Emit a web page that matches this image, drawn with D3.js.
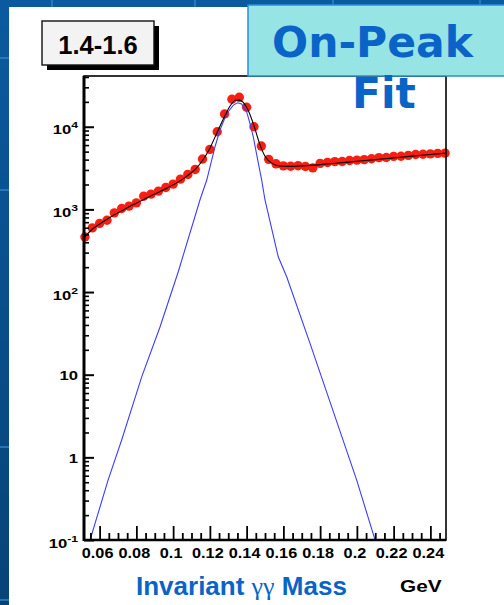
<!DOCTYPE html>
<html>
<head>
<meta charset="utf-8">
<script src="https://cdn.jsdelivr.net/npm/d3@7"></script>
<style>
  html, body { margin: 0; padding: 0; background: #0b5596; }
  svg { display: block; }
</style>
</head>
<body>
<svg id="chart" width="504" height="605"></svg>
<script>
// Diphoton invariant-mass spectrum, momentum slice 1.4-1.6
const binLabel = "1.4-1.6";

// bin centres (GeV) and counts per bin
const binMass = [
  0.052, 0.056, 0.060, 0.064, 0.068, 0.072, 0.076, 0.080, 0.084, 0.088,
  0.092, 0.096, 0.100, 0.104, 0.108, 0.112, 0.116, 0.120, 0.124, 0.128,
  0.132, 0.136, 0.140, 0.144, 0.148, 0.152, 0.156, 0.160, 0.164, 0.168,
  0.172, 0.176, 0.180, 0.184, 0.188, 0.192, 0.196, 0.200, 0.204, 0.208,
  0.212, 0.216, 0.220, 0.224, 0.228, 0.232, 0.236, 0.240, 0.244, 0.248
];
const counts = [
  464, 597, 675, 740, 908, 1025, 1095, 1200, 1445, 1530,
  1663, 1842, 2020, 2322, 2648, 3045, 4067, 5325, 8690, 14250,
  21500, 22700, 17200, 10000, 5840, 4030, 3560, 3360, 3330, 3380,
  3300, 3180, 3600, 3700, 3780, 3800, 3900, 3950, 4000, 4100,
  4230, 4250, 4380, 4400, 4500, 4620, 4650, 4700, 4760, 4800
];

// total fit (signal + background)
const fitMass = [
  0.0515, 0.056, 0.060, 0.064, 0.068, 0.072, 0.076, 0.080, 0.084, 0.088,
  0.092, 0.096, 0.100, 0.104, 0.108, 0.112, 0.116, 0.120, 0.124, 0.128,
  0.131, 0.134, 0.136, 0.138, 0.141, 0.144, 0.147, 0.150, 0.153, 0.156,
  0.160, 0.165, 0.170, 0.180, 0.190, 0.200, 0.210, 0.220, 0.230, 0.240, 0.2485
];
const fitTotal = [
  455, 575, 665, 760, 860, 960, 1075, 1190, 1320, 1460,
  1610, 1780, 1980, 2230, 2580, 3050, 3900, 5500, 8600, 13300,
  17800, 20900, 21000, 19800, 15500, 10300, 6300, 4400, 3700, 3430,
  3330, 3320, 3360, 3480, 3640, 3820, 4000, 4200, 4410, 4620, 4800
];

// signal component of the fit
const sigMass = [
  0.0515, 0.0548, 0.0646, 0.0720, 0.0829, 0.0929, 0.1028, 0.1146, 0.1183,
  0.1228, 0.1255, 0.1292, 0.1328, 0.1351, 0.1373, 0.1400, 0.1418, 0.1436,
  0.1464, 0.1482, 0.1500, 0.1572, 0.1618, 0.1745, 0.1999, 0.2099, 0.2485
];
const sigValues = [
  0.1, 0.1, 0.53, 1.62, 9.4, 38, 176, 1300, 2265,
  5730, 9120, 14500, 18300, 19500, 18800, 15200, 11000, 7570,
  3600, 2265, 1300, 267, 153, 23.9, 0.53, 0.1, 0.1
];

const xTickValues = [0.06, 0.08, 0.10, 0.12, 0.14, 0.16, 0.18, 0.20, 0.22, 0.24];
const xTickLabels = ["0.06", "0.08", "0.1", "0.12", "0.14", "0.16", "0.18", "0.2", "0.22", "0.24"];
const yTickValues = [0.1, 1, 10, 100, 1000, 10000];
const yTickBase = ["10", "1", "10", "10", "10", "10"];
const yTickExp = ["-1", "", "", "2", "3", "4"];

const svg = d3.select("#chart");
const W = 504, H = 605;

// ---------- slide background ----------
const defs = svg.append("defs");
const grad = defs.append("linearGradient").attr("id", "bg").attr("x1", 0).attr("y1", 0).attr("x2", 0).attr("y2", 1);
grad.append("stop").attr("offset", "0%").attr("stop-color", "#0b5a9f");
grad.append("stop").attr("offset", "100%").attr("stop-color", "#074377");
svg.append("rect").attr("width", W).attr("height", H).attr("fill", "url(#bg)");
const bgGrid = svg.append("g").attr("stroke", "#2f7fc4").attr("stroke-width", 2).attr("opacity", 0.8);
[52, 195, 333, 480].forEach(v => bgGrid.append("line").attr("x1", v).attr("x2", v).attr("y1", 0).attr("y2", 7));
[58, 190, 447, 600].forEach(v => bgGrid.append("line").attr("x1", 0).attr("x2", 9).attr("y1", v).attr("y2", v));

// white canvas
svg.append("rect").attr("x", 9).attr("y", 7).attr("width", W - 9).attr("height", H - 7).attr("fill", "#ffffff");

// ---------- scales ----------
const plot = { left: 84, right: 446, top: 76, bottom: 540 };
const x = d3.scaleLinear().domain([0.0515, 0.2485]).range([plot.left, plot.right]);
const y = d3.scaleLog().domain([0.1, Math.pow(10, 4.614)]).range([plot.bottom, plot.top]).clamp(true);

// ---------- data points ----------
const pts = binMass.map((m, i) => ({ m, v: counts[i] }));
svg.append("g").selectAll("circle").data(pts).join("circle")
  .attr("cx", d => x(d.m)).attr("cy", d => y(d.v)).attr("r", 4.7)
  .attr("fill", "#fa1e12");

// ---------- fit curves ----------
const sig = sigMass.map((m, i) => ({ m, v: sigValues[i] }));
const tot = fitMass.map((m, i) => ({ m, v: fitTotal[i] }));
const lineGen = d3.line().x(d => x(d.m)).y(d => y(d.v));
const lineSmooth = d3.line().x(d => x(d.m)).y(d => y(d.v)).curve(d3.curveMonotoneX);
svg.append("path").datum(sig).attr("d", lineGen)
  .attr("fill", "none").attr("stroke", "#3d3dff").attr("stroke-width", 1.1);
svg.append("path").datum(tot).attr("d", lineSmooth)
  .attr("fill", "none").attr("stroke", "#000").attr("stroke-width", 1.1);

// ---------- frame ----------
svg.append("rect").attr("x", plot.left).attr("y", plot.top)
  .attr("width", plot.right - plot.left).attr("height", plot.bottom - plot.top)
  .attr("fill", "none").attr("stroke", "#000").attr("stroke-width", 1.6);
svg.append("line").attr("x1", plot.left).attr("x2", plot.left).attr("y1", plot.top).attr("y2", plot.bottom + 1)
  .attr("stroke", "#000").attr("stroke-width", 3);
svg.append("line").attr("x1", plot.left).attr("x2", plot.right).attr("y1", plot.bottom).attr("y2", plot.bottom)
  .attr("stroke", "#000").attr("stroke-width", 2.5);

// ---------- y axis (log) ----------
const yMinor = [];
for (let e = -1; e <= 4; e++) for (let k = 2; k <= 9; k++) {
  const v = k * Math.pow(10, e);
  if (v <= y.domain()[1]) yMinor.push(v);
}
const yAxisMinor = d3.axisRight(y).tickValues(yMinor).tickSize(5).tickFormat("");
const yAxisMajor = d3.axisRight(y).tickValues(yTickValues).tickSize(10).tickFormat("");
[yAxisMinor, yAxisMajor].forEach((ax, j) => {
  const g = svg.append("g").attr("transform", `translate(${plot.left},0)`).call(ax);
  g.select(".domain").remove();
  g.selectAll("line").attr("stroke", "#000").attr("stroke-width", j ? 2 : 1.6);
});
const yLab = svg.append("g").attr("font-family", "'Liberation Sans', Arial, sans-serif")
  .attr("font-weight", "bold").attr("fill", "#000");
yTickValues.forEach((v, i) => {
  const hasExp = yTickExp[i] !== "";
  const t = yLab.append("text")
    .attr("transform", `translate(78,${y(v) + (hasExp ? 7.5 : 5.5)}) scale(1.28,1)`)
    .attr("text-anchor", "end").attr("font-size", 13);
  t.append("tspan").text(yTickBase[i]);
  if (hasExp) t.append("tspan").attr("dy", -6).attr("font-size", 9.5).text(yTickExp[i]);
});

// ---------- x axis ----------
const xMinor = d3.range(0.055, 0.2486, 0.005).filter(v => Math.abs(v / 0.02 - Math.round(v / 0.02)) > 1e-6);
const xAxisMinor = d3.axisTop(x).tickValues(xMinor).tickSize(7).tickFormat("");
const xAxisMajor = d3.axisTop(x).tickValues(xTickValues).tickSize(14).tickFormat("");
[xAxisMinor, xAxisMajor].forEach(ax => {
  const g = svg.append("g").attr("transform", `translate(0,${plot.bottom})`).call(ax);
  g.select(".domain").remove();
  g.selectAll("line").attr("stroke", "#000").attr("stroke-width", 1.8);
});
const xLab = svg.append("g").attr("font-family", "'Liberation Sans', Arial, sans-serif")
  .attr("font-weight", "bold").attr("font-size", 14).attr("fill", "#000");
xTickValues.forEach((v, i) => {
  xLab.append("text").attr("transform", `translate(${x(v) - 2},558) scale(1.16,1)`)
    .attr("text-anchor", "middle").text(xTickLabels[i]);
});

// axis titles
const title = svg.append("text").attr("x", 136).attr("y", 595)
  .attr("font-family", "'Liberation Sans', Arial, sans-serif").attr("font-weight", "bold")
  .attr("font-size", 26).attr("fill", "#0a64c8");
title.append("tspan").text("Invariant ");
title.append("tspan").attr("font-family", "'Liberation Serif', 'DejaVu Serif', serif").attr("font-weight", "normal").text("\u03b3\u03b3");
title.append("tspan").text(" Mass");
svg.append("text").attr("transform", "translate(400,591.5) scale(1.3,1)")
  .attr("font-family", "'Liberation Sans', Arial, sans-serif").attr("font-weight", "bold")
  .attr("font-size", 16).attr("fill", "#000").text("GeV");

// ---------- slice label ----------
svg.append("rect").attr("x", 47).attr("y", 26).attr("width", 112).attr("height", 44).attr("fill", "#000");
svg.append("rect").attr("x", 42).attr("y", 21).attr("width", 112).attr("height", 44)
  .attr("fill", "#f3f3f3").attr("stroke", "#111").attr("stroke-width", 1.4);
svg.append("text").attr("x", 98).attr("y", 53.5).attr("text-anchor", "middle")
  .attr("font-family", "'Liberation Sans', Arial, sans-serif").attr("font-weight", "bold")
  .attr("font-size", 25.5).attr("fill", "#000").text(binLabel);

// ---------- slide heading ----------
svg.append("rect").attr("x", 248).attr("y", 5).attr("width", 262).attr("height", 71)
  .attr("fill", "#97e4e4").attr("stroke", "#2b8fd6").attr("stroke-width", 1.5);
const head = svg.append("g").attr("font-family", "'DejaVu Sans', Verdana, sans-serif")
  .attr("font-weight", "bold").attr("font-size", 42.5).attr("fill", "#0a64c8");
head.append("text").attr("x", 272).attr("y", 56.7).text("On-Peak");
head.append("text").attr("x", 352).attr("y", 107.5).text("Fit");
</script>
</body>
</html>
